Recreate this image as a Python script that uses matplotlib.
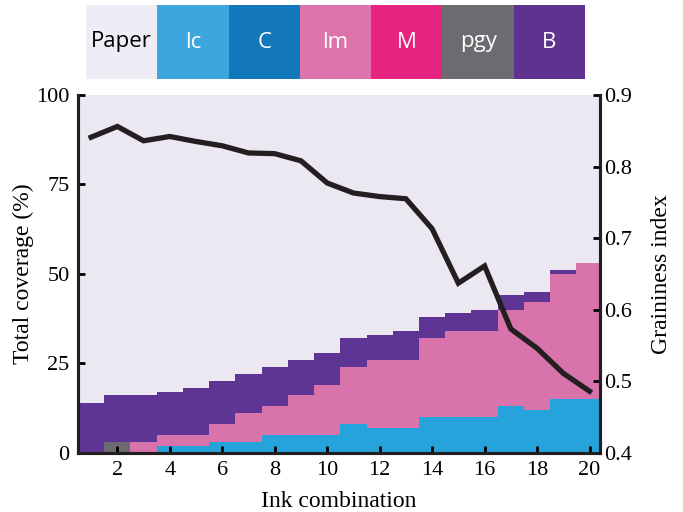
import matplotlib.pyplot as plt
import numpy as np

# ink combination 1..20, stacked coverage (%) per ink
combo = np.arange(1, 21)
pgy = [0, 3, 0, 0, 0, 0, 0, 0, 0, 0, 0, 0, 0, 0, 0, 0, 0, 0, 0, 0]
lc = [0, 0, 0, 2, 2, 3, 3, 5, 5, 5, 8, 7, 7, 10, 10, 10, 13, 12, 15, 15]
lm = [0, 0, 3, 3, 3, 5, 8, 8, 11, 14, 16, 19, 19, 22, 24, 24, 27, 30, 35, 38]
blk = [14, 13, 13, 12, 13, 12, 11, 11, 10, 9, 8, 7, 8, 6, 5, 6, 4, 3, 1, 0]
# graininess index per combination
grain = [0.841, 0.856, 0.836, 0.842, 0.835, 0.829, 0.819, 0.818, 0.808, 0.777,
         0.763, 0.758, 0.755, 0.713, 0.637, 0.661, 0.573, 0.546, 0.511, 0.486]

legend_names = ['Paper', 'lc', 'C', 'lm', 'M', 'pgy', 'B']
legend_colors = ['#efecf5', '#3ea6de', '#1277bb', '#dc73aa', '#e52480', '#6d6a70', '#5f3290']

c_paper = '#ebe8f2'
c_lc = '#27a3dc'
c_lm = '#d973ab'
c_pgy = '#6d6a70'
c_b = '#5e3594'

plt.rcParams['font.family'] = ['Liberation Serif', 'DejaVu Serif']

fig = plt.figure(figsize=(6.83, 5.12), dpi=100)
ax = fig.add_axes([78 / 683, 1 - 452.7 / 512, 522 / 683, 357.7 / 512])
ax.set_facecolor(c_paper)

bottom = np.zeros(len(combo))
for vals, col in [(pgy, c_pgy), (lc, c_lc), (lm, c_lm), (blk, c_b)]:
    ax.bar(combo, vals, width=1.0, bottom=bottom, color=col, linewidth=0)
    bottom += np.array(vals)

ax.set_xlim(0.5, 20.4)
ax.set_ylim(0, 100)
ax.set_xticks(range(2, 21, 2))
ax.set_yticks([0, 25, 50, 75, 100])
ax.set_xlabel('Ink combination', fontsize=17, labelpad=8)
ax.set_ylabel('Total coverage (%)', fontsize=17, labelpad=2)
ax.tick_params(direction='in', length=5, width=2, labelsize=16, pad=6)

ax2 = ax.twinx()
ax2.plot(combo, grain, color='#231f20', linewidth=3.8, solid_joinstyle='miter')
ax2.set_ylim(0.4, 0.9)
ax2.set_yticks([0.4, 0.5, 0.6, 0.7, 0.8, 0.9])
ax2.set_ylabel('Graininess index', fontsize=17, labelpad=14)
ax2.tick_params(direction='in', length=5, width=2, labelsize=16, pad=3)

for a in (ax, ax2):
    a.spines['top'].set_visible(False)
    for s in ('left', 'right', 'bottom'):
        a.spines[s].set_linewidth(2.2)
        a.spines[s].set_color('#231f20')

# colour key row at the top
lax = fig.add_axes([86 / 683, 1 - 79 / 512, 499 / 683, 74 / 512])
lax.bar(range(len(legend_names)), [1] * len(legend_names), width=1.0,
        color=legend_colors, linewidth=0)
for i, name in enumerate(legend_names):
    lax.text(i, 0.5, name, ha='center', va='center', fontsize=16,
             family=['Open Sans', 'DejaVu Sans'],
             color='black' if name == 'Paper' else 'white')
lax.set_xlim(-0.5, len(legend_names) - 0.5)
lax.set_ylim(0, 1)
lax.axis('off')

fig.savefig('out.png', dpi=100)
